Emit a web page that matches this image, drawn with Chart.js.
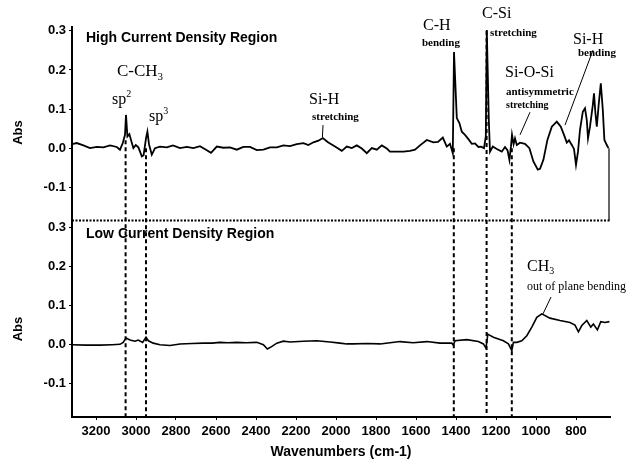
<!DOCTYPE html>
<html>
<head>
<meta charset="utf-8">
<script src="https://cdn.jsdelivr.net/npm/chart.js@4/dist/chart.umd.min.js"></script>
<style>
    html, body { margin: 0; padding: 0; background: #fff; }
    #chart { display: block; }
</style>
</head>
<body>
<canvas id="chart" width="626" height="466"></canvas>
<script>
// data //

const xTicks = [3200, 3000, 2800, 2600, 2400, 2200, 2000, 1800, 1600, 1400, 1200, 1000, 800];
const yTicks = [-0.1, 0.0, 0.1, 0.2, 0.3];

// high current density region (top panel)
const topWave = [
    3320, 3296, 3263, 3230, 3196, 3163, 3130, 3096, 3080, 3066,
    3055, 3050, 3043, 3033, 3025, 3013, 3001, 2988, 2971, 2962,
    2950, 2943, 2935, 2921, 2905, 2880, 2846, 2815, 2780, 2746,
    2713, 2680, 2650, 2625, 2596, 2563, 2530, 2496, 2463, 2430,
    2396, 2363, 2330, 2296, 2263, 2230, 2196, 2163, 2138, 2113,
    2088, 2066, 2040, 2005, 1971, 1946, 1921, 1896, 1871, 1846,
    1821, 1796, 1771, 1746, 1730, 1696, 1663, 1630, 1605, 1580,
    1546, 1513, 1490, 1466, 1446, 1430, 1416, 1410, 1396, 1383,
    1371, 1355, 1338, 1321, 1305, 1288, 1275, 1260, 1251, 1246,
    1236, 1230, 1216, 1196, 1171, 1155, 1142, 1133, 1125, 1120,
    1112, 1105, 1096, 1080, 1055, 1033, 1013, 991, 980, 963,
    943, 921, 896, 876, 860, 846, 835, 821, 810, 800,
    790, 780, 766, 755, 746, 740, 730, 716, 710, 703,
    696, 686, 676, 666, 658, 646, 638
];
const topAbs = [
    0.010, 0.013, 0.007, 0.000, 0.003, 0.002, 0.007, 0.003, -0.004, 0.013,
    0.034, 0.085, 0.030, 0.036, 0.021, 0.000, 0.008, 0.002, -0.021, -0.018,
    0.025, 0.042, 0.010, -0.017, 0.000, 0.004, 0.002, 0.007, 0.000, 0.003,
    0.000, 0.005, -0.004, -0.012, 0.004, 0.001, 0.002, -0.004, 0.003, 0.003,
    -0.005, -0.004, 0.002, 0.002, 0.007, 0.005, 0.010, 0.013, 0.008, 0.015,
    0.019, 0.026, 0.015, 0.004, -0.007, 0.004, 0.000, 0.007, -0.001, -0.013,
    0.000, -0.004, 0.007, -0.001, -0.009, -0.009, -0.009, -0.007, -0.004, 0.007,
    0.021, 0.015, 0.016, 0.027, 0.004, 0.011, -0.013, 0.246, 0.077, 0.064,
    0.042, 0.034, 0.023, 0.011, 0.012, 0.003, 0.004, 0.000, 0.030, 0.302,
    0.072, -0.009, 0.004, -0.002, -0.009, 0.003, -0.006, -0.030, 0.005, 0.034,
    0.010, 0.025, 0.008, 0.014, 0.011, 0.000, -0.034, -0.055, -0.053, -0.030,
    0.021, 0.055, 0.068, 0.055, 0.034, 0.014, 0.020, 0.008, -0.002, -0.043,
    -0.009, 0.047, 0.093, 0.102, 0.072, 0.025, 0.055, 0.110, 0.140, 0.090,
    0.055, 0.115, 0.166, 0.098, 0.021, 0.008, 0.000
];

// low current density region (bottom panel)
const botWave = [
    3320, 3250, 3180, 3120, 3080, 3064, 3050, 3030, 3005, 2989,
    2967, 2950, 2938, 2914, 2880, 2830, 2780, 2720, 2663, 2620,
    2580, 2540, 2496, 2450, 2396, 2363, 2343, 2322, 2296, 2263,
    2230, 2163, 2096, 2030, 1980, 1946, 1913, 1846, 1780, 1730,
    1680, 1615, 1546, 1480, 1421, 1413, 1405, 1346, 1288, 1263,
    1250, 1241, 1213, 1163, 1138, 1121, 1113, 1096, 1071, 1046,
    1021, 996, 971, 930, 880, 830, 805, 788, 771, 746,
    726, 713, 693, 676, 655, 633
];
const botAbs = [
    0.000, -0.001, -0.001, 0.000, 0.001, 0.006, 0.017, 0.012, 0.009, 0.012,
    0.006, 0.019, 0.010, 0.004, 0.000, -0.002, 0.002, 0.003, 0.004, 0.004,
    0.006, 0.005, 0.006, 0.005, 0.006, 0.000, -0.011, -0.005, 0.004, 0.009,
    0.007, 0.009, 0.010, 0.007, 0.004, 0.002, 0.002, 0.003, 0.002, 0.005,
    0.008, 0.005, 0.008, 0.004, 0.004, -0.001, 0.010, 0.013, 0.008, 0.002,
    -0.009, 0.027, 0.019, 0.010, 0.002, -0.015, 0.006, 0.006, 0.010, 0.023,
    0.045, 0.070, 0.079, 0.068, 0.062, 0.057, 0.050, 0.033, 0.049, 0.062,
    0.045, 0.053, 0.038, 0.059, 0.057, 0.059
];

// band positions marked by the dashed lines, and where each line starts in the top panel
const markerWave = [3052, 2950, 1411, 1247, 1121];
const markerStart = [0.02, 0.0, 0.0, 0.30, 0.0];

// annotation texts (parts: [text, 0 normal / 1 subscript / -1 superscript])
const SANS = '"Liberation Sans", Arial, sans-serif';
const SERIF = '"Liberation Serif", "Times New Roman", serif';
const notes = [
    { axis: 'yTop', w: 3250, v: 0.281, font: 'bold 14px ' + SANS, parts: [['High Current Density Region', 0]] },
    { axis: 'yTop', w: 3095, v: 0.195, font: '17px ' + SERIF, parts: [['C-CH', 0], ['3', 1]] },
    { axis: 'yTop', w: 3120, v: 0.123, font: '16px ' + SERIF, parts: [['sp', 0], ['2', -1]] },
    { axis: 'yTop', w: 2935, v: 0.080, font: '16px ' + SERIF, parts: [['sp', 0], ['3', -1]] },
    { axis: 'yTop', w: 2135, v: 0.123, font: '16px ' + SERIF, parts: [['Si-H', 0]] },
    { axis: 'yTop', w: 2120, v: 0.080, font: 'bold 11px ' + SERIF, parts: [['stretching', 0]] },
    { axis: 'yTop', w: 1565, v: 0.312, font: '16px ' + SERIF, parts: [['C-H', 0]] },
    { axis: 'yTop', w: 1570, v: 0.269, font: 'bold 11px ' + SERIF, parts: [['bending', 0]] },
    { axis: 'yTop', w: 1270, v: 0.345, font: '16px ' + SERIF, parts: [['C-Si', 0]] },
    { axis: 'yTop', w: 1230, v: 0.294, font: 'bold 11px ' + SERIF, parts: [['stretching', 0]] },
    { axis: 'yTop', w: 1155, v: 0.192, font: '16px ' + SERIF, parts: [['Si-O-Si', 0]] },
    { axis: 'yTop', w: 1150, v: 0.144, font: 'bold 11px ' + SERIF, parts: [['antisymmetric', 0]] },
    { axis: 'yTop', w: 1150, v: 0.110, font: 'bold 10px ' + SERIF, parts: [['stretching', 0]] },
    { axis: 'yTop', w: 815, v: 0.276, font: '16px ' + SERIF, parts: [['Si-H', 0]] },
    { axis: 'yTop', w: 790, v: 0.243, font: 'bold 11px ' + SERIF, parts: [['bending', 0]] },
    { axis: 'yBot', w: 3250, v: 0.284, font: 'bold 14px ' + SANS, parts: [['Low Current Density Region', 0]] },
    { axis: 'yBot', w: 1045, v: 0.200, font: '16px ' + SERIF, parts: [['CH', 0], ['3', 1]] },
    { axis: 'yBot', w: 1045, v: 0.148, font: '12px ' + SERIF, parts: [['out of plane bending', 0]] }
];
const leaders = [
    { axis: 'yTop', w1: 2065, v1: 0.059, w2: 2068, v2: 0.028 },
    { axis: 'yTop', w1: 1030, v1: 0.092, w2: 1080, v2: 0.034 },
    { axis: 'yTop', w1: 715, v1: 0.251, w2: 855, v2: 0.059 },
    { axis: 'yBot', w1: 925, v1: 0.122, w2: 965, v2: 0.079 }
];

// helpers //

function drawParts(ctx, x, y, font, parts) {
    let size = parseFloat(font.match(/(\d+(\.\d+)?)px/)[1]);
    parts.forEach(p => {
        if (p[1] === 0) {
            ctx.font = font;
            ctx.fillText(p[0], x, y);
        } else {
            let small = font.replace(/\d+(\.\d+)?px/, Math.round(size * 0.65) + 'px');
            ctx.font = small;
            ctx.fillText(p[0], x, y + (p[1] > 0 ? size * 0.3 : -size * 0.35));
        }
        x += ctx.measureText(p[0]).width;
    });
}

const panelPlugin = {
    id: 'panelPlugin',
    afterDraw(chart) {
        const ctx = chart.ctx;
        const x = chart.scales.x;
        const yTop = chart.scales.yTop;
        const yBot = chart.scales.yBot;
        ctx.save();
        ctx.strokeStyle = '#000';
        ctx.fillStyle = '#000';

        // dotted divider between the two panels
        ctx.lineWidth = 2;
        ctx.setLineDash([2, 1.5]);
        ctx.beginPath();
        ctx.moveTo(x.left, yTop.bottom);
        ctx.lineTo(x.right, yTop.bottom);
        ctx.stroke();

        // short right edge of the top panel
        ctx.setLineDash([]);
        ctx.lineWidth = 1.2;
        ctx.beginPath();
        ctx.moveTo(x.right - 1, yTop.getPixelForValue(0));
        ctx.lineTo(x.right - 1, yTop.bottom);
        ctx.stroke();

        // dashed band markers running down through both panels
        ctx.lineWidth = 2;
        ctx.setLineDash([4, 3]);
        markerWave.forEach((w, i) => {
            let px = x.getPixelForValue(w);
            ctx.beginPath();
            ctx.moveTo(px, yTop.getPixelForValue(markerStart[i]));
            ctx.lineTo(px, yBot.bottom);
            ctx.stroke();
        });

        // leader lines
        ctx.setLineDash([]);
        ctx.lineWidth = 1;
        leaders.forEach(l => {
            let s = chart.scales[l.axis];
            ctx.beginPath();
            ctx.moveTo(x.getPixelForValue(l.w1), s.getPixelForValue(l.v1));
            ctx.lineTo(x.getPixelForValue(l.w2), s.getPixelForValue(l.v2));
            ctx.stroke();
        });

        // labels
        ctx.textBaseline = 'middle';
        ctx.textAlign = 'left';
        notes.forEach(n => {
            let s = chart.scales[n.axis];
            drawParts(ctx, x.getPixelForValue(n.w), s.getPixelForValue(n.v), n.font, n.parts);
        });

        // "Abs" y titles
        ctx.font = 'bold 13px ' + SANS;
        ctx.textAlign = 'center';
        [yTop, yBot].forEach(s => {
            ctx.save();
            ctx.translate(18, s.getPixelForValue(0.04));
            ctx.rotate(-Math.PI / 2);
            ctx.fillText('Abs', 0, 0);
            ctx.restore();
        });
        ctx.restore();
    }
};

function yAxis(min, max, weight) {
    return {
        type: 'linear',
        position: 'left',
        stack: 'abs',
        stackWeight: weight,
        min: min,
        max: max,
        afterFit: a => { a.width = 72; },
        afterBuildTicks: a => { a.ticks = yTicks.map(v => ({ value: v })); },
        ticks: {
            callback: v => v.toFixed(1),
            font: { family: SANS, size: 13, weight: 'bold' },
            color: '#000',
            padding: 3
        },
        grid: { drawOnChartArea: false, tickLength: 3, color: '#000', lineWidth: 1 },
        border: { color: '#000', width: 2, dash: [2, 1.5] }
    };
}

document.addEventListener("DOMContentLoaded", function() {
    let ctx = document.getElementById('chart').getContext('2d');
    let chart = new Chart(ctx, {
        type: 'line',
        data: {
            datasets: [
                {
                    label: 'High Current Density Region',
                    data: topWave.map((w, i) => ({ x: w, y: topAbs[i] })),
                    yAxisID: 'yTop',
                    borderColor: '#000',
                    borderWidth: 1.8,
                    pointRadius: 0,
                    tension: 0
                },
                {
                    label: 'Low Current Density Region',
                    data: botWave.map((w, i) => ({ x: w, y: botAbs[i] })),
                    yAxisID: 'yBot',
                    borderColor: '#000',
                    borderWidth: 1.6,
                    pointRadius: 0,
                    tension: 0
                }
            ]
        },
        options: {
            responsive: false,
            animation: false,
            layout: { padding: { left: 0, right: 16, top: 27, bottom: 0 } },
            plugins: { legend: { display: false }, tooltip: { enabled: false } },
            scales: {
                x: {
                    type: 'linear',
                    reverse: true,
                    min: 630,
                    max: 3320,
                    afterFit: a => { a.height = 49; },
                    afterBuildTicks: a => { a.ticks = xTicks.map(v => ({ value: v })); },
                    ticks: {
                        callback: v => String(v),
                        font: { family: SANS, size: 13, weight: 'bold' },
                        color: '#000',
                        padding: 4,
                        maxRotation: 0,
                        autoSkip: false
                    },
                    grid: { drawOnChartArea: false, tickLength: 3, color: '#000' },
                    border: { color: '#000', width: 2, dash: [2, 1.5] },
                    title: {
                        display: true,
                        text: 'Wavenumbers (cm-1)',
                        font: { family: SANS, size: 14, weight: 'bold' },
                        color: '#000',
                        padding: { top: 0, bottom: 5 }
                    }
                },
                // in a left stack the later axis is placed on top
                yBot: yAxis(-0.185, 0.318, 0.503),
                yTop: yAxis(-0.185, 0.31, 0.495)
            }
        },
        plugins: [panelPlugin]
    });
});
</script>
</body>
</html>
